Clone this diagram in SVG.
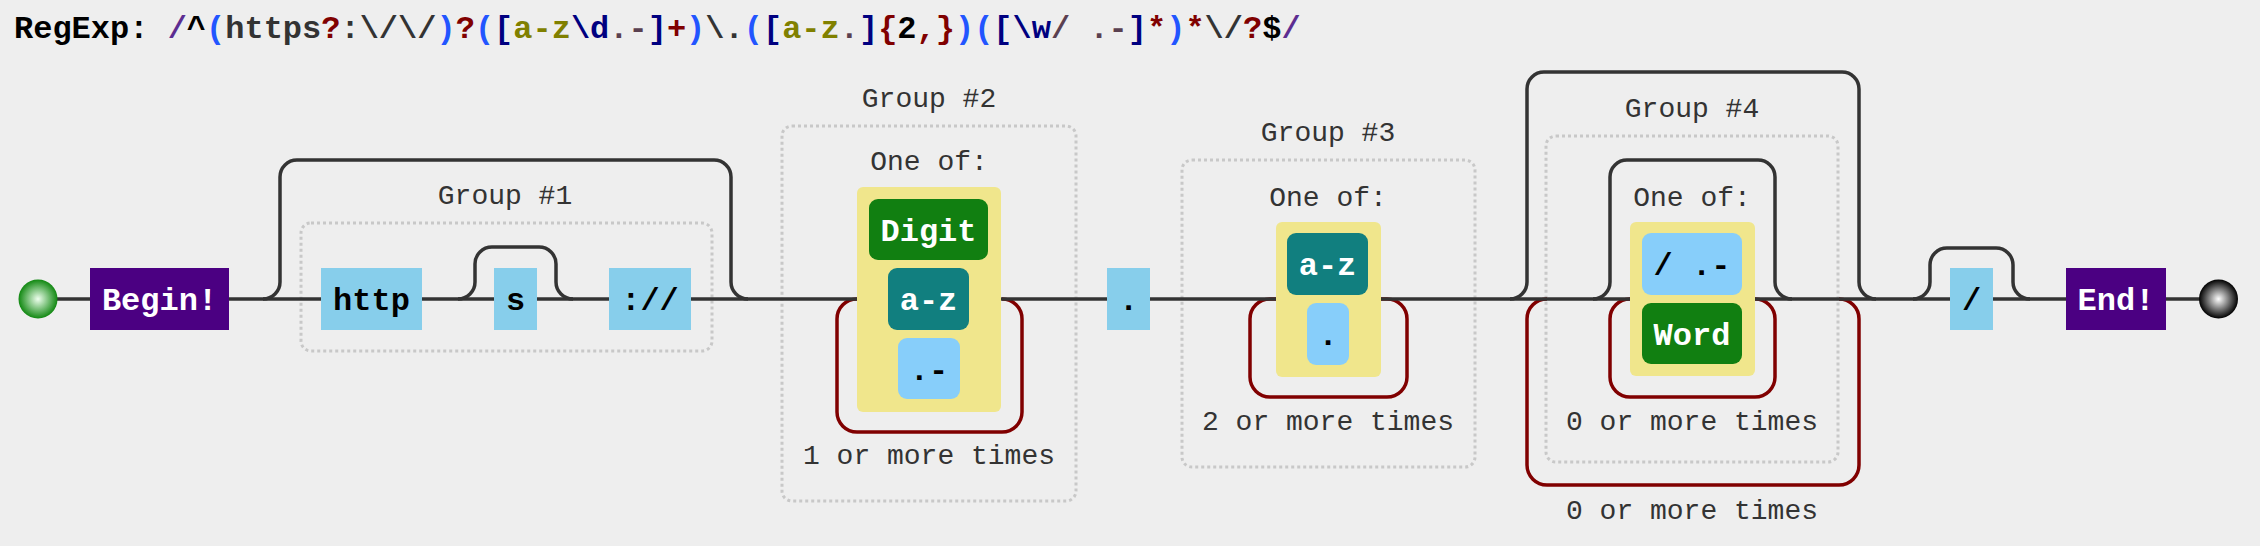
<svg xmlns="http://www.w3.org/2000/svg" width="2260" height="546" viewBox="0 0 2260 546">
<style>
.title{font-family:"Liberation Mono",monospace;font-size:32px;font-weight:bold}
.lbl{font-family:"Liberation Mono",monospace;font-size:28px;fill:#333;text-anchor:middle}
.nt{font-family:"Liberation Mono",monospace;font-size:32px;font-weight:bold;text-anchor:middle}
.w{fill:#fff}.k{fill:#000}
.line{fill:none;stroke:#333;stroke-width:3.5}
.rep{fill:none;stroke:#800000;stroke-width:3.5}
.grp{fill:none;stroke:#c8c8c8;stroke-width:3;stroke-dasharray:3 3}
.exact{fill:#87CEEB}.cls{fill:#87CEFA}.set{fill:#F0E68C}.anchor{fill:#4B0082}.digit{fill:#117F11}.range{fill:#117F7F}
</style>
<defs>
<radialGradient id="gStart" cx="0.5" cy="0.5" r="0.5"><stop offset="0" stop-color="#EEFFEE"/><stop offset="1" stop-color="#118811"/></radialGradient>
<radialGradient id="gEnd" cx="0.5" cy="0.5" r="0.5"><stop offset="0" stop-color="#FFFFFF"/><stop offset="1" stop-color="#000000"/></radialGradient>
</defs>
<rect width="2260" height="546" fill="#EEEEEE"/>
<text class="title" x="14" y="38" xml:space="preserve"><tspan fill="#000">RegExp: </tspan><tspan fill="#5c2d91">/</tspan><tspan fill="#000">^</tspan><tspan fill="#2255ff">(</tspan><tspan fill="#333">https</tspan><tspan fill="#800000">?</tspan><tspan fill="#333">:\/\/</tspan><tspan fill="#2255ff">)</tspan><tspan fill="#800000">?</tspan><tspan fill="#2255ff">(</tspan><tspan fill="#000080">[</tspan><tspan fill="#808000">a-z</tspan><tspan fill="#000080">\d</tspan><tspan fill="#5a4050">.-</tspan><tspan fill="#000080">]</tspan><tspan fill="#800000">+</tspan><tspan fill="#2255ff">)</tspan><tspan fill="#333">\.</tspan><tspan fill="#2255ff">(</tspan><tspan fill="#000080">[</tspan><tspan fill="#808000">a-z</tspan><tspan fill="#5a4050">.</tspan><tspan fill="#000080">]</tspan><tspan fill="#800000">{</tspan><tspan fill="#000">2</tspan><tspan fill="#800000">,}</tspan><tspan fill="#2255ff">)(</tspan><tspan fill="#000080">[\w</tspan><tspan fill="#5a4050">/ .-</tspan><tspan fill="#000080">]</tspan><tspan fill="#800000">*</tspan><tspan fill="#2255ff">)</tspan><tspan fill="#800000">*</tspan><tspan fill="#333">\/</tspan><tspan fill="#800000">?</tspan><tspan fill="#000">$</tspan><tspan fill="#5c2d91">/</tspan></text>

<g id="group1-frame"><rect class="grp" x="301" y="223" width="411" height="128" rx="10"/><text class="lbl" x="505" y="204">Group #1</text></g>
<g id="group2-frame"><rect class="grp" x="782" y="126" width="294" height="375" rx="10"/><text class="lbl" x="929" y="107">Group #2</text><text class="lbl" x="929" y="170">One of:</text><text class="lbl" x="929" y="464">1 or more times</text></g>
<g id="group3-frame"><rect class="grp" x="1182" y="160" width="293" height="307" rx="10"/><text class="lbl" x="1328" y="141">Group #3</text><text class="lbl" x="1328" y="206">One of:</text><text class="lbl" x="1328" y="430">2 or more times</text></g>
<g id="group4-frame"><rect class="grp" x="1546" y="136" width="292" height="326" rx="10"/><text class="lbl" x="1692" y="117">Group #4</text><text class="lbl" x="1692" y="206">One of:</text><text class="lbl" x="1692" y="430">0 or more times</text><text class="lbl" x="1692" y="519">0 or more times</text></g>

<g id="connectors">
<path class="rep" d="M857,299 A20,20 0 0 0 837,319 V412 A20,20 0 0 0 857,432 H1002 A20,20 0 0 0 1022,412 V319 A20,20 0 0 0 1002,299"/>
<path class="rep" d="M1276,299 H1270 A20,20 0 0 0 1250,319 V377 A20,20 0 0 0 1270,397 H1387 A20,20 0 0 0 1407,377 V319 A20,20 0 0 0 1387,299 H1381"/>
<path class="rep" d="M1630,299 A20,20 0 0 0 1610,319 V377 A20,20 0 0 0 1630,397 H1755 A20,20 0 0 0 1775,377 V319 A20,20 0 0 0 1755,299"/>
<path class="rep" d="M1547,299 A20,20 0 0 0 1527,319 V465 A20,20 0 0 0 1547,485 H1839 A20,20 0 0 0 1859,465 V319 A20,20 0 0 0 1839,299"/>
<path class="line" d="M38,299 H2218"/>
<path class="line" d="M263,299 A17,17 0 0 0 280,282 V177 A17,17 0 0 1 297,160 H714 A17,17 0 0 1 731,177 V282 A17,17 0 0 0 748,299"/>
<path class="line" d="M458,299 A17,17 0 0 0 475,282 V264 A17,17 0 0 1 492,247 H539 A17,17 0 0 1 556,264 V282 A17,17 0 0 0 573,299"/>
<path class="line" d="M1510,299 A17,17 0 0 0 1527,282 V89 A17,17 0 0 1 1544,72 H1842 A17,17 0 0 1 1859,89 V282 A17,17 0 0 0 1876,299"/>
<path class="line" d="M1593,299 A17,17 0 0 0 1610,282 V177 A17,17 0 0 1 1627,160 H1758 A17,17 0 0 1 1775,177 V282 A17,17 0 0 0 1792,299"/>
<path class="line" d="M1913,299 A17,17 0 0 0 1930,282 V265 A17,17 0 0 1 1947,248 H1996 A17,17 0 0 1 2013,265 V282 A17,17 0 0 0 2030,299"/>
</g>

<g id="start"><circle cx="38" cy="299" r="19.5" fill="url(#gStart)"/></g>
<g id="begin"><rect class="anchor" x="90" y="268" width="139" height="62"/><text class="nt w" x="159.5" y="310">Begin!</text></g>
<g id="http"><rect class="exact" x="321" y="268" width="101" height="62"/><text class="nt k" x="371.5" y="310">http</text></g>
<g id="s"><rect class="exact" x="494" y="268" width="43" height="62"/><text class="nt k" x="515.5" y="310">s</text></g>
<g id="colon-slashes"><rect class="exact" x="609" y="268" width="82" height="62"/><text class="nt k" x="650" y="310">://</text></g>
<g id="set2"><rect class="set" x="857" y="187" width="144" height="225" rx="6"/>
<rect class="digit" x="869" y="199" width="119" height="61" rx="9"/><text class="nt w" x="928.5" y="241">Digit</text>
<rect class="range" x="888" y="268" width="81" height="62" rx="9"/><text class="nt w" x="928.5" y="310">a-z</text>
<rect class="cls" x="898" y="338" width="62" height="61" rx="9"/><text class="nt k" x="929" y="380">.-</text></g>
<g id="dot"><rect class="exact" x="1107" y="268" width="43" height="62"/><text class="nt k" x="1128.5" y="310">.</text></g>
<g id="set3"><rect class="set" x="1276" y="222" width="105" height="155" rx="6"/>
<rect class="range" x="1287" y="233" width="81" height="62" rx="9"/><text class="nt w" x="1327.5" y="275">a-z</text>
<rect class="cls" x="1307" y="303" width="42" height="62" rx="9"/><text class="nt k" x="1328" y="345">.</text></g>
<g id="set4"><rect class="set" x="1630" y="222" width="125" height="154" rx="6"/>
<rect class="cls" x="1642" y="233" width="100" height="62" rx="9"/><text class="nt k" x="1692" y="275" xml:space="preserve">/ .-</text>
<rect class="digit" x="1642" y="303" width="100" height="61" rx="9"/><text class="nt w" x="1692" y="345">Word</text></g>
<g id="slash"><rect class="exact" x="1950" y="268" width="43" height="62"/><text class="nt k" x="1971.5" y="310">/</text></g>
<g id="end"><rect class="anchor" x="2066" y="268" width="100" height="62"/><text class="nt w" x="2116" y="310">End!</text></g>
<g id="finish"><circle cx="2218.5" cy="299" r="19.5" fill="url(#gEnd)"/></g>
</svg>
